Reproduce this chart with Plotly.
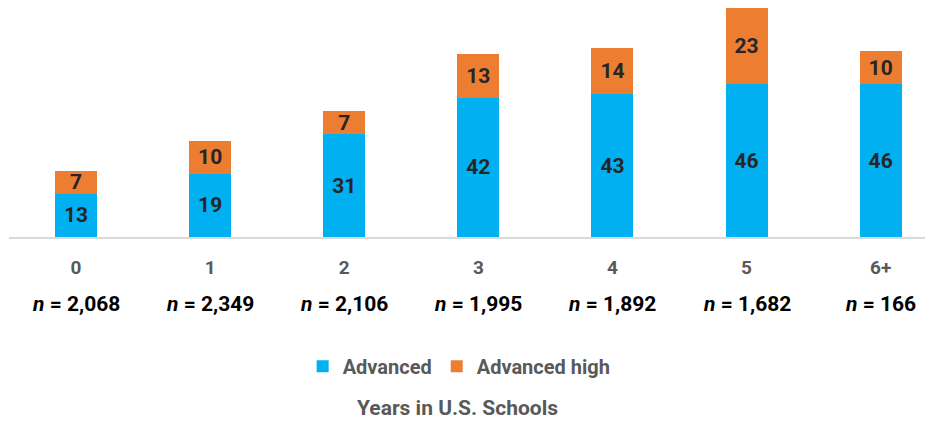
import plotly.graph_objects as go

categories = ["0", "1", "2", "3", "4", "5", "6+"]
advanced = [13, 19, 31, 42, 43, 46, 46]
advanced_high = [7, 10, 7, 13, 14, 23, 10]
n_labels = ["2,068", "2,349", "2,106", "1,995", "1,892", "1,682", "166"]

FONT = "Roboto, Liberation Sans, Arial, sans-serif"
GREY = "#595959"
DARK = "#262626"

fig = go.Figure()
fig.add_trace(go.Bar(
    x=categories, y=advanced, name="Advanced",
    marker=dict(color="#00b0f0", line=dict(width=0)),
    text=[str(v) for v in advanced], textposition="inside",
    insidetextanchor="middle", textangle=0, constraintext="none",
    textfont=dict(family=FONT, size=21, color=DARK, weight="bold"),
))
fig.add_trace(go.Bar(
    x=categories, y=advanced_high, name="Advanced high",
    marker=dict(color="#ed7d31", line=dict(width=0)),
    text=[str(v) for v in advanced_high], textposition="inside",
    insidetextanchor="middle", textangle=0, constraintext="none",
    textfont=dict(family=FONT, size=21, color=DARK, weight="bold"),
))

for c, n in zip(categories, n_labels):
    fig.add_annotation(
        x=c, xref="x", y=-0.294, yref="paper", yanchor="middle",
        text=f"<i>n</i> = {n}", showarrow=False,
        font=dict(family=FONT, size=21, color="#000000", weight="bold"),
    )

fig.add_annotation(
    x=0.481, xref="paper", y=-0.747, yref="paper", yanchor="middle",
    text="Years in U.S. Schools", showarrow=False,
    font=dict(family=FONT, size=21, color=GREY, weight="bold"),
)

fig.update_layout(
    width=933, height=421,
    barmode="stack", bargap=0.687,
    paper_bgcolor="white", plot_bgcolor="white",
    margin=dict(l=1, r=0, t=0, b=191.5),
    showlegend=True,
    legend=dict(
        orientation="h", x=0.483, xanchor="center", y=-0.564, yanchor="middle",
        font=dict(family=FONT, size=20, color=GREY, weight="bold"),
        traceorder="normal",
    ),
    xaxis=dict(
        range=[-0.5, 6.45], showgrid=False, zeroline=False,
        showline=True, linecolor="#d9d9d9", linewidth=2,
        ticks="", ticklabelstandoff=12,
        tickfont=dict(family=FONT, size=19, color=GREY, weight="bold"),
        fixedrange=True,
    ),
    yaxis=dict(
        range=[0, 69], visible=False, showgrid=False, zeroline=False,
        fixedrange=True,
    ),
)

fig.write_html("out.html")
